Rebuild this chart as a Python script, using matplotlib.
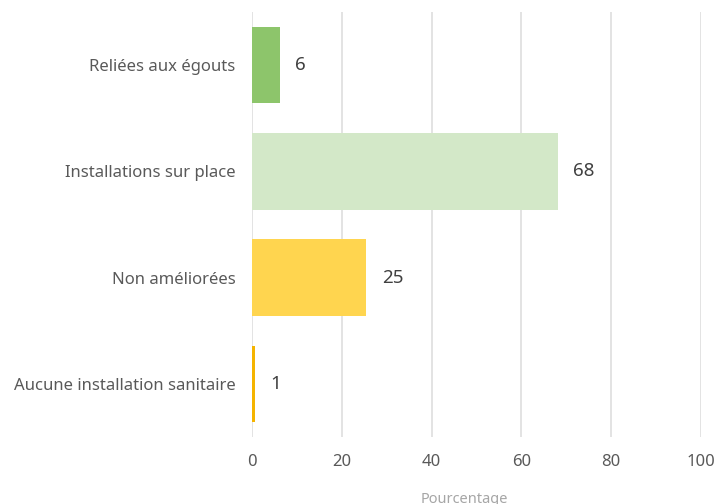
import matplotlib.pyplot as plt

# Données
categories = ["Reliées aux égouts", "Installations sur place", "Non améliorées",
              "Aucune installation sanitaire"]
valeurs = [6.2, 68.1, 25.5, 0.6]
etiquettes = ["6", "68", "25", "1"]
couleurs = ["#8dc56b", "#d3e8c8", "#ffd54f", "#f5b400"]
ticks_x = [0, 20, 40, 60, 80, 100]

plt.rcParams["font.family"] = ["Noto Sans", "DejaVu Sans"]

fig = plt.figure(figsize=(7.18, 5.04), dpi=100)
ax = fig.add_axes([252 / 718, 67 / 504, 449 / 718, 425 / 504])

y = list(range(len(categories)))
ax.barh(y, valeurs, height=0.72, color=couleurs, zorder=2)

for yi, v, lab in zip(y, valeurs, etiquettes):
    ax.annotate(lab, (v, yi), xytext=(11, 0), textcoords="offset points",
                va="center", ha="left", fontsize=13.5, color="#404040")

ax.set_xlim(0, 100)
ax.set_ylim(len(categories) - 0.5, -0.5)
ax.set_yticks(y)
ax.set_yticklabels(categories)
ax.set_xticks(ticks_x)

ax.grid(axis="x", color="#dedede", linewidth=1.2, zorder=0)
for s in ax.spines.values():
    s.set_visible(False)
ax.tick_params(axis="both", length=0, labelsize=12, colors="#595959")
ax.tick_params(axis="x", pad=12)
ax.tick_params(axis="y", pad=12)

ax.set_xlabel("Pourcentage", fontsize=10.5, color="#a6a6a6")
ax.xaxis.set_label_coords(0.474, -0.13)

fig.savefig("out.png", dpi=100)
